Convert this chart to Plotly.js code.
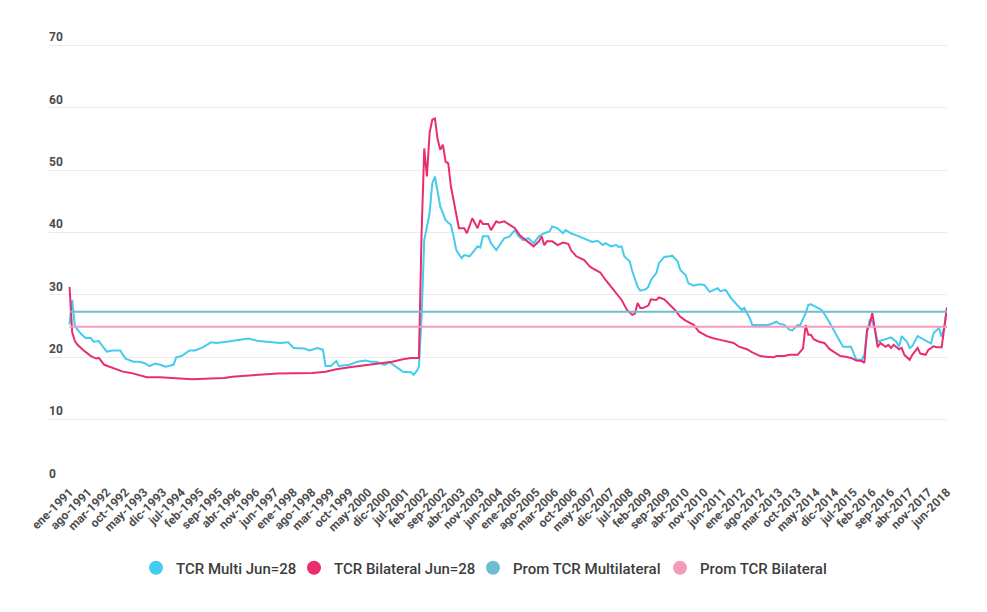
<!DOCTYPE html>
<html>
<head>
<meta charset="utf-8">
<script src="https://cdn.plot.ly/plotly-3.0.1.min.js"></script>
<style>
  html, body { margin: 0; padding: 0; background: #ffffff; }
  #chart { width: 987px; height: 612px; }
</style>
</head>
<body>
<div id="chart"></div>
<script>
// Tick labels (every 7 months, starting ene-1991 = month index 0)
const tickLabels = ["ene-1991","ago-1991","mar-1992","oct-1992","may-1993","dic-1993","jul-1994","feb-1995","sep-1995","abr-1996","nov-1996","jun-1997","ene-1998","ago-1998","mar-1999","oct-1999","may-2000","dic-2000","jul-2001","feb-2002","sep-2002","abr-2003","nov-2003","jun-2004","ene-2005","ago-2005","mar-2006","oct-2006","may-2007","dic-2007","jul-2008","feb-2009","sep-2009","abr-2010","nov-2010","jun-2011","ene-2012","ago-2012","mar-2013","oct-2013","may-2014","dic-2014","jul-2015","feb-2016","sep-2016","abr-2017","nov-2017","jun-2018"];
const tickMonths = [0,7,14,21,28,35,42,49,56,63,70,77,84,91,98,105,112,119,126,133,140,147,154,161,168,175,182,189,196,203,210,217,224,231,238,245,252,259,266,273,280,287,294,301,308,315,322,329];

// TCR Multi Jun=28 (month index since ene-1991, value)
const multiMonth = [0,1,2,4,6,8,9,11,12,14,16,19,21,24,26,28,30,32,34,36,39,40,42,45,47,50,53,55,59,63,67,71,75,79,82,84,88,90,93,95,96,98,100,101,105,108,111,113,115,118,120,123,125,128,129,130,131,132,133,135,136,137,138,139,141,143,144,145,147,148,150,153,154,155,157,158,160,161,163,165,167,168,170,172,174,176,178,180,181,183,185,186,188,191,194,196,198,200,201,203,205,206,207,208,210,211,213,214,216,217,218,220,221,223,225,226,228,229,231,232,234,236,238,240,241,243,244,246,248,250,252,253,254,255,256,259,262,264,265,266,268,270,271,273,274,276,277,278,280,282,284,286,288,290,293,294,295,297,298,299,300,301,302,303,305,308,310,311,312,314,315,316,318,320,322,323,324,326,327,328,329];
const multiValue = [25.3,29.2,25.0,23.9,23.1,23.1,22.5,22.6,22.0,20.9,21.1,21.1,19.8,19.3,19.3,19.1,18.6,19.0,18.8,18.5,18.8,20.0,20.2,21.1,21.1,21.6,22.4,22.3,22.5,22.8,23.0,22.6,22.4,22.3,22.4,21.5,21.4,21.1,21.5,21.2,18.6,18.6,19.4,18.6,18.8,19.3,19.5,19.3,19.3,18.8,19.2,18.3,17.7,17.6,17.2,17.7,18.5,26.5,38.8,43.1,47.9,49.0,46.3,44.2,42.0,41.2,39.4,37.2,35.9,36.4,36.2,37.8,37.6,39.4,39.4,38.3,37.2,37.8,39.1,39.4,40.4,39.6,38.8,39.1,38.3,39.4,39.9,40.2,41.0,40.7,39.9,40.4,39.9,39.4,38.9,38.5,38.7,38.0,38.3,37.8,38.0,37.7,37.8,36.2,35.4,33.8,31.3,30.7,30.9,31.3,32.4,33.5,35.1,36.1,36.2,36.3,35.4,34.0,33.2,31.9,31.5,31.7,31.6,30.5,30.7,31.1,30.6,30.8,29.5,28.6,27.6,27.9,27.1,26.3,25.2,25.2,25.2,25.5,25.7,25.4,25.2,24.4,24.3,25.2,25.2,27.1,28.4,28.5,28.1,27.6,26.3,24.7,23.1,21.7,21.7,20.7,19.6,19.6,20.4,23.9,26.0,25.8,24.4,22.5,22.8,23.2,22.5,21.7,23.4,22.5,21.5,21.8,23.4,22.9,22.4,22.2,23.9,24.7,23.3,24.9,28.0];

// TCR Bilateral Jun=28
const bilatMonth = [0,1,2,3,5,8,10,11,13,16,20,23,26,29,34,40,46,53,58,61,66,71,78,84,91,96,100,105,109,114,117,121,125,128,131,132,133,134,135,136,137,138,139,140,141,142,143,144,145,146,148,149,151,153,154,155,157,158,160,161,163,165,167,169,171,174,176,177,178,179,181,183,185,187,188,190,193,195,196,199,201,203,206,207,209,211,212,213,214,215,217,218,220,221,223,225,227,229,231,234,236,239,241,244,246,249,251,254,256,259,261,264,265,268,270,273,274,275,276,277,278,279,281,283,285,287,289,291,293,295,297,298,299,300,301,302,303,304,306,307,308,309,311,312,313,315,316,318,319,321,322,324,325,327,328,329];
const bilatValue = [31.3,24.0,22.6,22.0,21.2,20.2,19.8,19.9,18.8,18.3,17.7,17.5,17.2,16.8,16.8,16.7,16.5,16.6,16.7,16.9,17.0,17.2,17.4,17.4,17.5,17.7,18.1,18.4,18.6,18.9,19.1,19.3,19.7,19.9,19.9,40.0,53.5,49.0,56.0,58.1,58.3,55.0,53.3,54.1,51.4,51.1,47.4,45.2,43.1,40.7,40.7,39.9,42.3,40.7,42.0,41.4,41.4,40.4,41.8,41.6,41.8,41.2,40.7,39.5,38.8,37.8,38.6,39.4,38.0,38.6,38.6,38.0,38.4,38.2,37.2,36.2,35.6,34.6,34.3,33.6,32.4,31.3,29.7,29.2,27.6,26.8,27.0,28.7,27.9,27.9,28.3,29.3,29.2,29.6,29.3,28.4,27.6,26.5,25.9,25.2,24.1,23.4,23.1,22.8,22.6,22.3,21.7,21.3,20.8,20.2,20.1,20.0,20.2,20.2,20.4,20.4,20.9,21.4,25.2,23.6,23.6,22.9,22.5,22.3,21.3,20.7,20.2,20.1,19.9,19.5,19.4,19.1,24.4,25.2,27.1,24.4,21.6,22.3,21.7,22.0,21.5,22.0,21.3,21.5,20.4,19.6,20.4,21.5,20.6,20.4,21.2,21.8,21.6,21.6,24.9,28.0];

// Averages
const promMulti = 27.3;
const promBilateral = 24.9;
const firstMonth = 0, lastMonth = 329;

const cMulti = '#45cbee', cBilat = '#e92d6f', cPromMulti = '#6fbdd2', cPromBilat = '#f29bbb';
const names = ['TCR Multi Jun=28','TCR Bilateral Jun=28','Prom TCR Multilateral','Prom TCR Bilateral'];
const colors = [cMulti, cBilat, cPromMulti, cPromBilat];
const legendIds = ['legend','legend2','legend3','legend4'];
const legendLeft = [136, 294, 473, 660];

const traces = [
  {x: multiMonth, y: multiValue, mode: 'lines', line: {color: cMulti, width: 2}, showlegend: false, hoverinfo: 'skip'},
  {x: bilatMonth, y: bilatValue, mode: 'lines', line: {color: cBilat, width: 2}, showlegend: false, hoverinfo: 'skip'},
  {x: [firstMonth, lastMonth], y: [promMulti, promMulti], mode: 'lines', line: {color: cPromMulti, width: 2}, showlegend: false, hoverinfo: 'skip'},
  {x: [firstMonth, lastMonth], y: [promBilateral, promBilateral], mode: 'lines', line: {color: cPromBilat, width: 2}, showlegend: false, hoverinfo: 'skip'}
];
names.forEach((n, i) => traces.push({
  x: [null], y: [null], mode: 'markers', name: n, legend: legendIds[i],
  marker: {color: colors[i], size: 14, symbol: 'circle'}, showlegend: true
}));

const layout = {
  width: 987, height: 612,
  margin: {l: 49, r: 40, t: 30, b: 130},
  paper_bgcolor: '#ffffff', plot_bgcolor: '#ffffff',
  font: {family: 'Roboto, sans-serif', color: '#4a4a4a'},
  showlegend: true,
  xaxis: {
    range: [-7.7, 329],
    tickmode: 'array', tickvals: tickMonths, ticktext: tickLabels,
    tickangle: -45, showgrid: false, zeroline: false, showline: false, ticks: '',
    tickfont: {family: 'Roboto, sans-serif', size: 12, weight: 700, color: '#4d4d4d'},
    fixedrange: true
  },
  yaxis: {
    range: [0, 72.5],
    tickmode: 'array', tickvals: [0,10,20,30,40,50,60,70],
    ticklabelposition: 'inside top', ticklabelstandoff: -3,
    showgrid: true, gridcolor: '#ebebeb', gridwidth: 1,
    zeroline: false, showline: false, ticks: '',
    tickfont: {family: 'Roboto, sans-serif', size: 12, weight: 700, color: '#4a4a4a'},
    fixedrange: true
  }
};
legendIds.forEach((id, i) => {
  layout[id] = {
    orientation: 'h', xref: 'container', x: legendLeft[i] / 987, xanchor: 'left',
    yref: 'container', y: 0.072, yanchor: 'middle',
    font: {family: 'Roboto, sans-serif', size: 15, weight: 500, color: '#3d3d3d'},
    bgcolor: 'rgba(0,0,0,0)',
    itemclick: false, itemdoubleclick: false
  };
});

Plotly.newPlot('chart', traces, layout, {displayModeBar: false, staticPlot: true});
</script>
</body>
</html>
